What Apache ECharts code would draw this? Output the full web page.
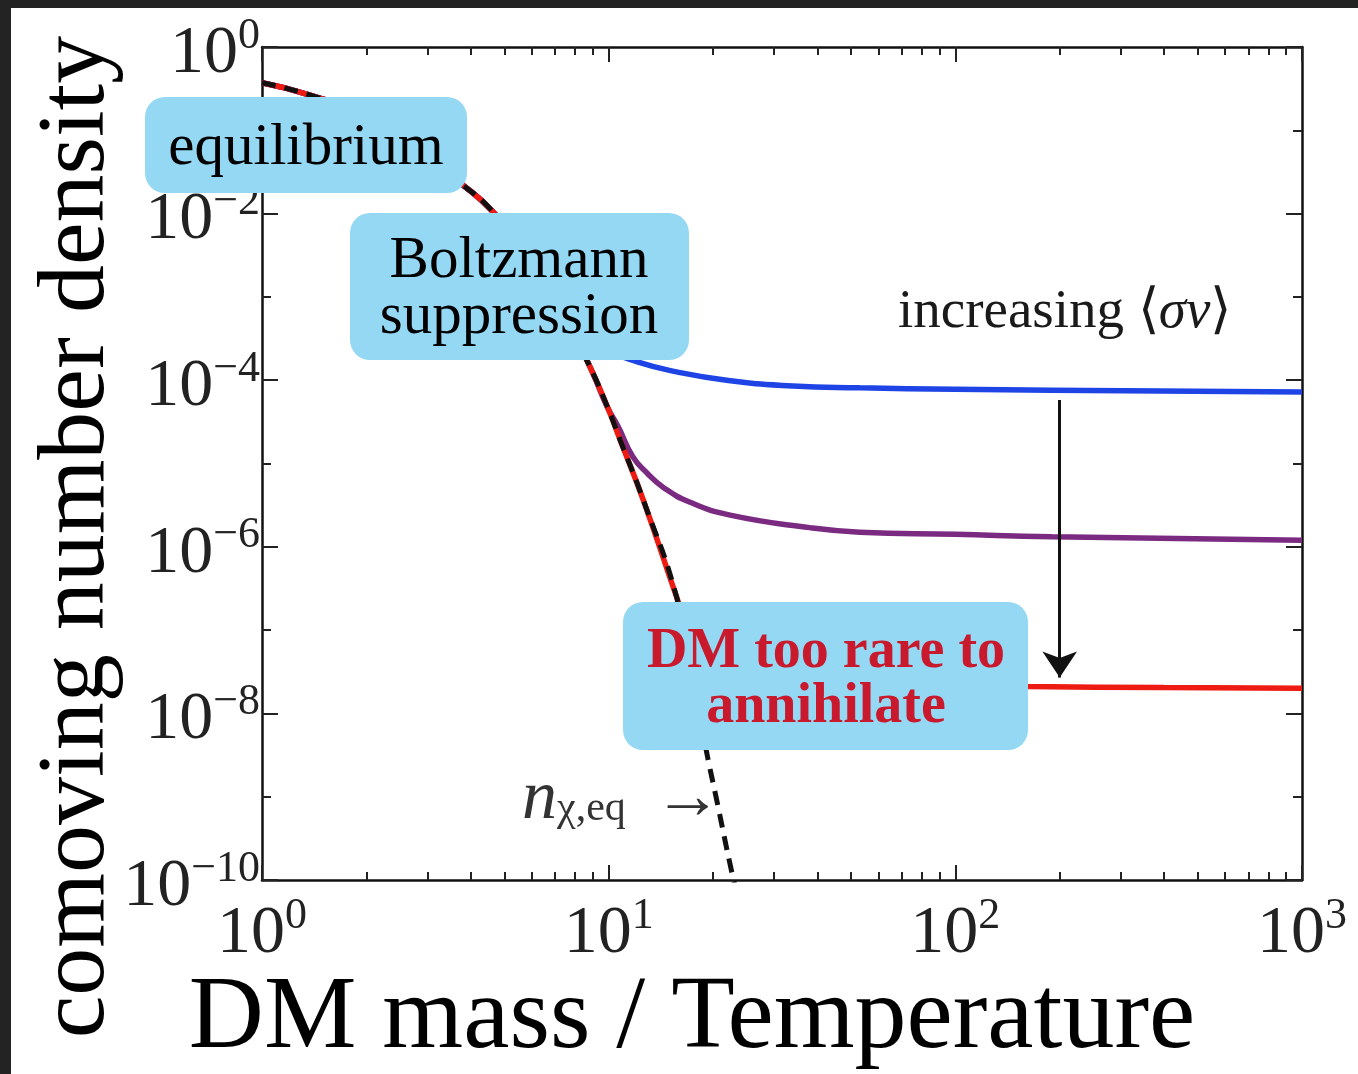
<!DOCTYPE html>
<html>
<head>
<meta charset="utf-8">
<title>Freeze-out of dark matter</title>
<script src="https://cdn.jsdelivr.net/npm/echarts@6.0.0/dist/echarts.min.js"></script>
<style>
  html, body { margin: 0; padding: 0; background: #fff; }
  #chart { width: 1358px; height: 1074px; }
</style>
</head>
<body>
<div id="chart"></div>
<script>
// equilibrium density n_eq (dashed black over red)
const eqX = [1, 1.375, 2, 3, 3.73, 4.64, 6, 7, 8.83, 10, 10.8, 12.6, 15.7, 17.5, 19.2, 20.3, 22.8, 23.6];
const eqY = [0.372, 0.265, 0.148, 0.0468, 0.0234, 0.0105, 2.75e-3, 1.0e-3, 1.45e-4, 4.4e-5, 1.9e-5, 3.6e-6, 2.5e-7, 2.5e-8, 3.3e-9, 1.1e-9, 1.1e-10, 6.3e-11];

// smallest <sigma v> (blue)
const blueX = [1, 1.375, 2, 3, 3.73, 4.64, 6, 7, 8, 9, 10, 12.1, 15.7, 21.9, 34, 53, 100, 190, 1000];
const blueY = [0.372, 0.265, 0.148, 0.0468, 0.0234, 0.0105, 2.75e-3, 1.07e-3, 5.2e-4, 3.2e-4, 2.3e-4, 1.66e-4, 1.26e-4, 1.0e-4, 8.5e-5, 8.1e-5, 7.8e-5, 7.6e-5, 7.2e-5];

// middle <sigma v> (purple)
const purpleX = [1, 1.375, 2, 3, 3.73, 4.64, 6, 7, 8.83, 9.9, 10.64, 11.75, 12.9, 14.35, 17.1, 22.4, 38, 53, 100, 190, 1000];
const purpleY = [0.372, 0.265, 0.148, 0.0468, 0.0234, 0.0105, 2.75e-3, 1.0e-3, 1.45e-4, 4.8e-5, 2.8e-5, 1.2e-5, 7.7e-6, 5.2e-6, 3.45e-6, 2.4e-6, 1.7e-6, 1.5e-6, 1.41e-6, 1.32e-6, 1.2e-6];

// largest <sigma v> (red)
const redX = [1, 1.375, 2, 3, 3.73, 4.64, 6, 7, 8.83, 10, 10.8, 12.6, 15.7, 17.5, 20, 25, 35, 60, 162, 400, 1000];
const redY = [0.372, 0.265, 0.148, 0.0468, 0.0234, 0.0105, 2.75e-3, 1.0e-3, 1.45e-4, 4.4e-5, 1.9e-5, 3.6e-6, 2.5e-7, 7.1e-8, 4.0e-8, 2.8e-8, 2.4e-8, 2.24e-8, 2.1e-8, 2.04e-8, 2.0e-8];

// "increasing <sigma v>" arrow (x, top, tip)
const arrowX = 200;
const arrowFrom = 5.8e-5;
const arrowTo = 2.7e-8;

// ticks
const xMajorTicks = [1, 10, 100, 1000];
const xMinorTicks = [2, 3, 4, 5, 6, 7, 8, 9, 20, 30, 40, 50, 60, 70, 80, 90, 200, 300, 400, 500, 600, 700, 800, 900];
const yLabelTicks = [1, 1e-2, 1e-4, 1e-6, 1e-8, 1e-10];
const yOddTicks = [1e-1, 1e-3, 1e-5, 1e-7, 1e-9];

const serif = '"Liberation Serif", "Times New Roman", serif';
const zip = (xs, ys) => xs.map((x, i) => [x, ys[i]]);

const powLabel = v => {
  const e = Math.round(Math.log10(v));
  return '{b|10}{e|' + (e < 0 ? '\u2212' + (-e) : e) + '}';
};
const powRich = {
  b: { fontFamily: serif, fontSize: 68, lineHeight: 80, color: '#222' },
  e: { fontFamily: serif, fontSize: 44, lineHeight: 44, color: '#222', verticalAlign: 'top' },
};

const hidden = { show: false };
const logX = (extra) => Object.assign({
  type: 'log', logBase: 10, min: 1, max: 1000,
  splitLine: hidden, axisLine: hidden, axisTick: hidden, axisLabel: hidden,
}, extra);
const logY = (extra) => Object.assign({
  type: 'log', logBase: 10, min: 1e-10, max: 1,
  splitLine: hidden, axisLine: hidden, axisTick: hidden, axisLabel: hidden,
}, extra);
const frameLine = { show: true, onZero: false, lineStyle: { color: '#111', width: 2.5 } };
const tick = (values, len) => ({
  show: true, inside: true, length: len, customValues: values,
  lineStyle: { color: '#222', width: 2 },
});
const powAxisLabel = (margin) => ({
  show: true, formatter: powLabel, rich: powRich, margin,
  fontFamily: serif, fontSize: 68, color: '#222',
});

const line = (name, data, color, extra) => Object.assign({
  name, type: 'line', data, showSymbol: false, smooth: 0.5,
  lineStyle: { color, width: 5.5 }, xAxisIndex: 0, yAxisIndex: 0,
}, extra);

const chart = echarts.init(document.getElementById('chart'));

chart.setOption({
  animation: false,
  backgroundColor: '#fff',
  grid: { left: 262, right: 56, top: 47, bottom: 194 },
  xAxis: [
    logX({
      position: 'bottom', axisLine: frameLine, axisTick: tick(xMajorTicks, 15),
      axisLabel: Object.assign(powAxisLabel(14), { customValues: xMajorTicks }),
    }),
    logX({ position: 'bottom', axisTick: tick(xMinorTicks, 8) }),
    logX({ position: 'top', axisLine: frameLine, axisTick: tick(xMajorTicks, 15) }),
    logX({ position: 'top', axisTick: tick(xMinorTicks, 8) }),
  ],
  yAxis: [
    logY({
      position: 'left', axisLine: frameLine, axisTick: tick(yLabelTicks, 16),
      axisLabel: Object.assign(powAxisLabel(2), { customValues: yLabelTicks, padding: [14, 0, 0, 0] }),
    }),
    logY({ position: 'left', axisTick: tick(yOddTicks, 9) }),
    logY({ position: 'right', axisLine: frameLine, axisTick: tick(yLabelTicks, 16) }),
    logY({ position: 'right', axisTick: tick(yOddTicks, 9) }),
  ],
  series: [
    line('blue', zip(blueX, blueY), '#1f44e6', { z: 2 }),
    line('purple', zip(purpleX, purpleY), '#7a2a80', { z: 3 }),
    line('red', zip(redX, redY), '#ee1b12', {
      z: 4,
      markLine: {
        silent: true,
        symbol: ['none', 'arrow'],
        symbolSize: 26,
        label: { show: false },
        lineStyle: { color: '#111', width: 3, type: 'solid' },
        data: [[{ coord: [arrowX, arrowFrom] }, { coord: [arrowX, arrowTo] }]],
      },
    }),
    line('equilibrium', zip(eqX, eqY), '#111', {
      z: 5, lineStyle: { color: '#111', width: 5, type: [14, 9] },
    }),
  ],
  graphic: [
    { type: 'rect', z: 200, shape: { x: 0, y: 0, width: 1358, height: 8 }, style: { fill: '#232323' } },
    { type: 'rect', z: 200, shape: { x: 0, y: 0, width: 11, height: 1074 }, style: { fill: '#232323' } },

    { type: 'rect', z: 100, shape: { x: 145, y: 97, width: 322, height: 96, r: 20 }, style: { fill: '#94d8f4' } },
    { type: 'text', z: 101, style: { text: 'equilibrium', x: 306, y: 148, font: '59px ' + serif, fill: '#000', align: 'center', verticalAlign: 'middle' } },

    { type: 'rect', z: 100, shape: { x: 350, y: 213, width: 339, height: 147, r: 20 }, style: { fill: '#94d8f4' } },
    { type: 'text', z: 101, style: { text: 'Boltzmann\nsuppression', x: 519, y: 289, font: '59px ' + serif, lineHeight: 56, fill: '#000', align: 'center', verticalAlign: 'middle' } },

    { type: 'rect', z: 100, shape: { x: 623, y: 602, width: 405, height: 148, r: 20 }, style: { fill: '#94d8f4' } },
    { type: 'text', z: 101, style: { text: 'DM too rare to\nannihilate', x: 826, y: 680, font: 'bold 56px ' + serif, lineHeight: 55, fill: '#c8192d', align: 'center', verticalAlign: 'middle' } },

    {
      type: 'text', z: 101,
      style: {
        text: 'increasing {i|\u27e8}{g|\u03c3v}{i|\u27e9}', x: 898, y: 313,
        font: '55px ' + serif, fill: '#1a1a1a', align: 'left', verticalAlign: 'middle',
        rich: {
          i: { fontFamily: serif, fontSize: 55, fill: '#1a1a1a' },
          g: { fontFamily: serif, fontSize: 55, fontStyle: 'italic', fill: '#1a1a1a' },
        },
      },
    },
    {
      type: 'text', z: 101,
      style: {
        text: '{n|n}{s|\u03c7,eq}  {a|\u2192}', x: 522, y: 800,
        font: '56px ' + serif, fill: '#333', align: 'left', verticalAlign: 'middle',
        rich: {
          n: { fontFamily: serif, fontSize: 70, fontStyle: 'italic', fill: '#333', lineHeight: 60 },
          s: { fontFamily: serif, fontSize: 42, fill: '#333', verticalAlign: 'bottom', lineHeight: 42 },
          a: { fontFamily: serif, fontSize: 68, fill: '#333', lineHeight: 60 },
        },
      },
    },

    { type: 'text', z: 101, style: { text: 'DM mass / Temperature', x: 692, y: 1020, font: '104px ' + serif, fill: '#000', align: 'center', verticalAlign: 'middle' } },
    { type: 'text', z: 101, rotation: Math.PI / 2, x: 78, y: 537, style: { text: 'comoving number density', x: 0, y: 0, font: '96px ' + serif, fill: '#000', align: 'center', verticalAlign: 'middle' } },
  ],
});
</script>
</body>
</html>
